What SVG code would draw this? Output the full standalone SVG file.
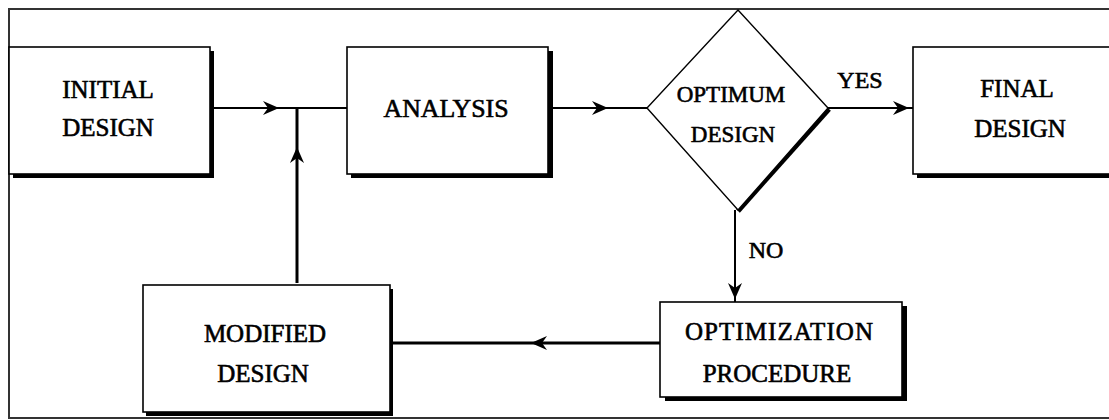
<svg xmlns="http://www.w3.org/2000/svg" width="1109" height="420" viewBox="0 0 1109 420">
<style>
.bg{fill:#fff}
.frame{fill:none;stroke:#333;stroke-width:2}
.box{fill:#fff;stroke:#000;stroke-width:1.6}
.shadow{fill:#000}
.lbl{font-family:"Liberation Serif","Times New Roman",serif;font-size:25px;fill:#000;stroke:#000;stroke-width:0.6;text-anchor:middle}
.small{font-size:24px}
.conn{fill:none;stroke:#000;stroke-width:2}
.thick{stroke-width:3}
</style>
<defs>
<marker id="arr" markerUnits="userSpaceOnUse" markerWidth="20" markerHeight="16" viewBox="-17 -8 20 16" refX="0" refY="0" orient="auto">
<path d="M1,0 L-15,-7 L-10,0 L-15,7 Z" fill="#000"/>
</marker>
</defs>
<rect class="bg" x="0" y="0" width="1109" height="420"/>
<rect class="frame" x="9" y="9" width="1120" height="409"/>

<g id="connectors">
<polyline class="conn" points="214,108 278,108 347,108" marker-mid="url(#arr)"/>
<polyline class="conn thick" points="297,283 297,148 297,108" marker-mid="url(#arr)"/>
<polyline class="conn" points="553,108 607,108 647,108" marker-mid="url(#arr)"/>
<polyline class="conn" points="828,108 908,108 913,108" marker-mid="url(#arr)"/>
<polyline class="conn" points="735,210 735,298 735,302" marker-mid="url(#arr)"/>
<polyline class="conn thick" points="660,343 532,343 393,343" marker-mid="url(#arr)"/>
<text class="lbl small" x="860" y="88">YES</text>
<text class="lbl small" x="766" y="258">NO</text>
</g>

<g id="initial">
<rect class="shadow" x="13" y="51" width="201" height="127"/>
<rect class="box" x="9" y="47" width="201" height="127"/>
<text class="lbl" x="108" y="98">INITIAL</text>
<text class="lbl" x="108" y="136">DESIGN</text>
</g>

<g id="analysis">
<rect class="shadow" x="351" y="51" width="202" height="127"/>
<rect class="box" x="347" y="47" width="201" height="127"/>
<text class="lbl" x="446" y="117" textLength="125" lengthAdjust="spacingAndGlyphs">ANALYSIS</text>
</g>

<g id="optimum">
<line x1="829" y1="109" x2="738" y2="211" stroke="#000" stroke-width="5"/>
<polygon points="738,10 828,108 738,210 647,108" fill="#fff" stroke="#000" stroke-width="1.4"/>
<text class="lbl" style="font-size:23px" x="731" y="102">OPTIMUM</text>
<text class="lbl" style="font-size:23px" x="733" y="142">DESIGN</text>
</g>

<g id="final">
<rect class="shadow" x="917" y="51" width="210" height="127"/>
<rect class="box" x="913" y="47" width="210" height="127"/>
<text class="lbl" x="1017" y="97">FINAL</text>
<text class="lbl" x="1020" y="137">DESIGN</text>
</g>

<g id="optimization">
<rect class="shadow" x="665" y="306" width="242" height="95"/>
<rect class="box" x="660" y="302" width="242" height="95"/>
<text class="lbl" x="779" y="340" textLength="188" lengthAdjust="spacing">OPTIMIZATION</text>
<text class="lbl" x="777" y="382">PROCEDURE</text>
</g>

<g id="modified">
<rect class="shadow" x="146" y="289" width="247" height="127"/>
<rect class="box" x="143" y="285" width="247" height="127"/>
<text class="lbl" x="265" y="342">MODIFIED</text>
<text class="lbl" x="263" y="382">DESIGN</text>
</g>
</svg>
